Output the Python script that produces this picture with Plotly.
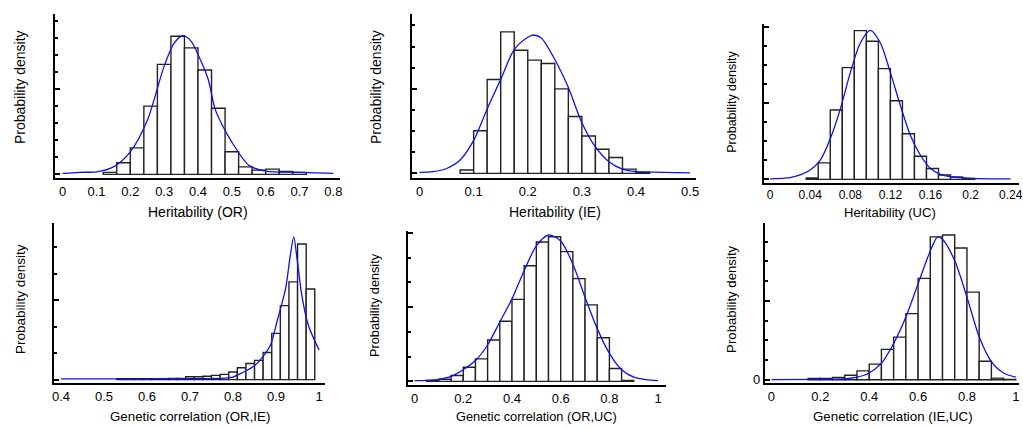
import plotly.graph_objects as go

W, H = 1023, 428

# ---------------- data ----------------
# Panel 1: Heritability (OR)
h_or_bins = [0.12, 0.16, 0.20, 0.24, 0.28, 0.32, 0.36, 0.40, 0.44, 0.48, 0.52, 0.56, 0.60, 0.64, 0.68]
h_or_width = 0.04
h_or_dens = [0.12, 0.68, 1.55, 4.00, 6.44, 8.09, 7.41, 6.11, 3.87, 1.33, 0.44, 0.25, 0.31, 0.17, 0.12]
h_or_kx = [0, 0.05, 0.1, 0.15, 0.2, 0.25, 0.3, 0.33, 0.355, 0.38, 0.4, 0.43, 0.45, 0.47, 0.5, 0.55, 0.6, 0.7, 0.8]
h_or_ky = [0.06, 0.12, 0.15, 0.44, 1.32, 3.15, 6.34, 7.70, 8.12, 7.79, 7.02, 5.57, 3.85, 2.95, 1.89, 0.54, 0.19, 0.12, 0.06]

# Panel 2: Heritability (IE)
h_ie_bins = [0.075, 0.1, 0.125, 0.15, 0.175, 0.2, 0.225, 0.25, 0.275, 0.3, 0.325, 0.35, 0.375, 0.4]
h_ie_width = 0.025
h_ie_dens = [0.16, 2.02, 4.44, 6.70, 5.83, 5.36, 5.20, 4.00, 2.69, 1.77, 1.14, 0.75, 0.20, 0.05]
h_ie_kx = [0, 0.025, 0.05, 0.075, 0.1, 0.125, 0.15, 0.175, 0.2, 0.21, 0.225, 0.25, 0.275, 0.3, 0.325, 0.35, 0.375, 0.4, 0.45, 0.5]
h_ie_ky = [0.05, 0.08, 0.23, 0.63, 1.56, 3.05, 4.45, 5.86, 6.44, 6.55, 6.41, 5.39, 4.06, 2.40, 1.25, 0.55, 0.20, 0.08, 0.05, 0.02]

# Panel 3: Heritability (UC)
h_uc_bins = [0.036, 0.048, 0.06, 0.072, 0.084, 0.096, 0.108, 0.12, 0.132, 0.144, 0.156, 0.168, 0.18, 0.192]
h_uc_width = 0.012
h_uc_dens = [0.07, 0.87, 3.65, 5.88, 7.83, 7.27, 5.83, 4.14, 2.40, 1.22, 0.57, 0.23, 0.12, 0.05]
h_uc_kx = [0, 0.02, 0.03, 0.04, 0.05, 0.06, 0.07, 0.08, 0.09, 0.1, 0.11, 0.12, 0.13, 0.14, 0.15, 0.16, 0.17, 0.18, 0.2, 0.24]
h_uc_ky = [0.03, 0.09, 0.23, 0.49, 1.01, 2.14, 3.70, 5.62, 7.18, 7.84, 7.18, 5.62, 3.88, 2.31, 1.27, 0.57, 0.26, 0.14, 0.05, 0.02]

# Panel 4: Genetic correlation (OR,IE)
rg_oi_bins = [0.53, 0.55, 0.57, 0.59, 0.61, 0.63, 0.65, 0.67, 0.69, 0.71, 0.73, 0.75,
              0.77, 0.79, 0.81, 0.83, 0.85, 0.87, 0.89, 0.91, 0.93, 0.95, 0.97]
rg_oi_width = 0.02
rg_oi_dens = [0.04, 0.04, 0.04, 0.04, 0.04, 0.04, 0.05, 0.05, 0.11, 0.11, 0.13, 0.16,
              0.20, 0.29, 0.45, 0.61, 0.73, 1.03, 1.75, 2.80, 3.70, 5.13, 3.43]
rg_oi_kx = [0.4, 0.5, 0.6, 0.7, 0.78, 0.8, 0.82, 0.85, 0.87, 0.887, 0.902, 0.922, 0.933, 0.941, 0.949, 0.96, 0.975, 1.0]
rg_oi_ky = [0.03, 0.03, 0.03, 0.04, 0.06, 0.1, 0.25, 0.53, 0.88, 1.31, 2.18, 3.43, 4.68, 5.40, 4.55, 3.18, 2.06, 1.12]

# Panel 5: Genetic correlation (OR,UC)
rg_ou_bins = [0.05, 0.1, 0.15, 0.2, 0.25, 0.3, 0.35, 0.4, 0.45, 0.5, 0.55, 0.6, 0.65, 0.7, 0.75, 0.8, 0.85]
rg_ou_width = 0.05
rg_ou_dens = [0.04, 0.09, 0.24, 0.57, 0.91, 1.67, 2.43, 3.31, 4.67, 5.63, 5.84, 5.24, 4.15, 3.09, 1.76, 0.52, 0.04]
rg_ou_kx = [0, 0.05, 0.1, 0.15, 0.2, 0.25, 0.3, 0.35, 0.4, 0.45, 0.5, 0.55, 0.6, 0.65, 0.7, 0.75, 0.8, 0.85, 0.9, 0.95, 1.0]
rg_ou_ky = [0.03, 0.04, 0.08, 0.20, 0.47, 0.84, 1.47, 2.40, 3.33, 4.47, 5.47, 5.91, 5.67, 4.73, 3.40, 2.13, 1.13, 0.47, 0.17, 0.07, 0.03]

# Panel 6: Genetic correlation (IE,UC)
rg_iu_bins = [0.15, 0.2, 0.25, 0.3, 0.35, 0.4, 0.45, 0.5, 0.55, 0.6, 0.65, 0.7, 0.75, 0.8, 0.85, 0.9, 0.95]
rg_iu_width = 0.05
rg_iu_dens = [0.07, 0.07, 0.12, 0.23, 0.45, 0.79, 1.54, 2.16, 3.35, 5.14, 7.24, 7.34, 6.68, 4.44, 0.94, 0.08, 0.02]
rg_iu_kx = [0, 0.2, 0.3, 0.35, 0.4, 0.45, 0.5, 0.55, 0.6, 0.65, 0.68, 0.7, 0.75, 0.8, 0.85, 0.9, 0.95, 1.0]
rg_iu_ky = [0.01, 0.02, 0.05, 0.13, 0.34, 0.84, 1.84, 3.18, 4.86, 6.53, 7.24, 7.12, 6.03, 4.19, 2.18, 0.92, 0.34, 0.13]

# Tick labels
xt_or = ["0", "0.1", "0.2", "0.3", "0.4", "0.5", "0.6", "0.7", "0.8"]
xt_ie = ["0", "0.1", "0.2", "0.3", "0.4", "0.5"]
xt_uc = ["0", "0.04", "0.08", "0.12", "0.16", "0.2", "0.24"]
xt_oi = ["0.4", "0.5", "0.6", "0.7", "0.8", "0.9", "1"]
xt_ou = ["0", "0.2", "0.4", "0.6", "0.8", "1"]
xt_iu = ["0", "0.2", "0.4", "0.6", "0.8", "1"]

titles = ["Heritability (OR)", "Heritability (IE)", "Heritability (UC)",
          "Genetic correlation (OR,IE)", "Genetic correlation (OR,UC)", "Genetic correlation (IE,UC)"]
ytitle = "Probability density"

# ---------------- layout geometry (pixels) ----------------
FONT = "Arial, Liberation Sans, sans-serif"
panels = [
    dict(bins=h_or_bins, w=h_or_width, dens=h_or_dens, kx=h_or_kx, ky=h_or_ky, xt=xt_or,
         px=(53, 340), py=(14, 180), xr=(-0.0235, 0.8196), yr=(-0.23, 9.4), major=[0, 5],
         yticktext=None, tfs=13, titlepos=(197, 214), tsize=14, ytpos=(18, 88), ytsize=14),
    dict(bins=h_ie_bins, w=h_ie_width, dens=h_ie_dens, kx=h_ie_kx, ky=h_ie_ky, xt=xt_ie,
         px=(412, 698), py=(14, 180), xr=(-0.0147, 0.5107), yr=(-0.234, 7.55), major=[0, 4],
         yticktext=None, tfs=13, titlepos=(556, 214), tsize=14, ytpos=(376, 88), ytsize=14),
    dict(bins=h_uc_bins, w=h_uc_width, dens=h_uc_dens, kx=h_uc_kx, ky=h_uc_ky, xt=xt_uc,
         px=(766, 1023), py=(24, 184.3), xr=(-0.0066, 0.2483), yr=(-0.17, 8.19), major=[0, 4, 8],
         yticktext=None, tfs=12, titlepos=(893, 214), tsize=13, ytpos=(734, 103), ytsize=12.5),
    dict(bins=rg_oi_bins, w=rg_oi_width, dens=rg_oi_dens, kx=rg_oi_kx, ky=rg_oi_ky, xt=xt_oi,
         px=(52, 325), py=(225, 386.7), xr=(0.3831, 1.014), yr=(-0.13, 5.93), major=[0, 3],
         yticktext=None, tfs=13, titlepos=(189, 420), tsize=13.3, ytpos=(18, 302), ytsize=13.5),
    dict(bins=rg_ou_bins, w=rg_ou_width, dens=rg_ou_dens, kx=rg_ou_kx, ky=rg_ou_ky, xt=xt_ou,
         px=(408.3, 668), py=(232.7, 389), xr=(-0.0273, 1.0327), yr=(-0.16, 6.09), major=[0, 3, 6],
         yticktext=None, tfs=13, titlepos=(538, 420), tsize=12.8, ytpos=(375, 308), ytsize=12.7),
    dict(bins=rg_iu_bins, w=rg_iu_width, dens=rg_iu_dens, kx=rg_iu_kx, ky=rg_iu_ky, xt=xt_iu,
         px=(767.3, 1023), py=(225, 386.7), xr=(-0.0273, 1.013), yr=(-0.17, 7.95), major=[0, 4],
         yticktext=["0", ""], tfs=13, titlepos=(896, 420), tsize=13.3, ytpos=(733, 302), ytsize=13.2),
]

fig = go.Figure()
annotations = []
layout = dict(width=W, height=H, margin=dict(l=0, r=0, t=0, b=0),
              paper_bgcolor="white", plot_bgcolor="white", showlegend=False,
              font=dict(family=FONT, color="black"))

for i, p in enumerate(panels, start=1):
    xa = "x" if i == 1 else f"x{i}"
    ya = "y" if i == 1 else f"y{i}"
    centers = [b + p["w"] / 2 for b in p["bins"]]
    fig.add_trace(go.Bar(x=centers, y=p["dens"], width=p["w"], xaxis=xa, yaxis=ya,
                         marker=dict(color="white", line=dict(color="#222222", width=1.4)),
                         hoverinfo="skip"))
    fig.add_trace(go.Scatter(x=p["kx"], y=p["ky"], xaxis=xa, yaxis=ya, mode="lines",
                             line=dict(color="#1010e8", width=1.3, shape="spline", smoothing=0.8),
                             hoverinfo="skip"))
    xdom = [p["px"][0] / W, p["px"][1] / W]
    ydom = [1 - p["py"][1] / H, 1 - p["py"][0] / H]
    xvals = [float(t) for t in p["xt"]]
    layout["xaxis" if i == 1 else f"xaxis{i}"] = dict(
        domain=xdom, range=list(p["xr"]), anchor=ya, showline=True, linewidth=2, linecolor="black",
        showgrid=False, zeroline=False, ticks="", tickmode="array", tickvals=xvals, ticktext=p["xt"],
        ticklabeloverflow="allow",
        tickfont=dict(family=FONT, size=p["tfs"], color="black"), fixedrange=True)
    show_lab = p["yticktext"] is not None
    layout["yaxis" if i == 1 else f"yaxis{i}"] = dict(
        domain=ydom, range=list(p["yr"]), anchor=xa, showline=True, linewidth=2, linecolor="black",
        showgrid=False, zeroline=False, ticks="inside", ticklen=5, tickwidth=1.5, tickcolor="black",
        tickmode="array", tickvals=p["major"],
        ticktext=p["yticktext"] if show_lab else None, showticklabels=show_lab,
        ticklabeloverflow="allow",
        tickfont=dict(family=FONT, size=13, color="black"),
        minor=dict(ticks="inside", ticklen=3, tickwidth=1.5, tickcolor="black", dtick=1, tick0=0),
        fixedrange=True)
    annotations.append(dict(text=titles[i - 1], x=p["titlepos"][0] / W, y=1 - p["titlepos"][1] / H,
                            xref="paper", yref="paper", showarrow=False, xanchor="center", yanchor="middle",
                            font=dict(family=FONT, size=p["tsize"], color="black")))
    annotations.append(dict(text=ytitle, x=p["ytpos"][0] / W, y=1 - p["ytpos"][1] / H,
                            xref="paper", yref="paper", showarrow=False, xanchor="center", yanchor="middle",
                            textangle=-90, font=dict(family=FONT, size=p["ytsize"], color="black")))

layout["annotations"] = annotations
fig.update_layout(**layout)
fig.write_html("out.html", config={"displayModeBar": False},
               post_script="document.body.style.margin='0';document.body.style.overflow='hidden';")
